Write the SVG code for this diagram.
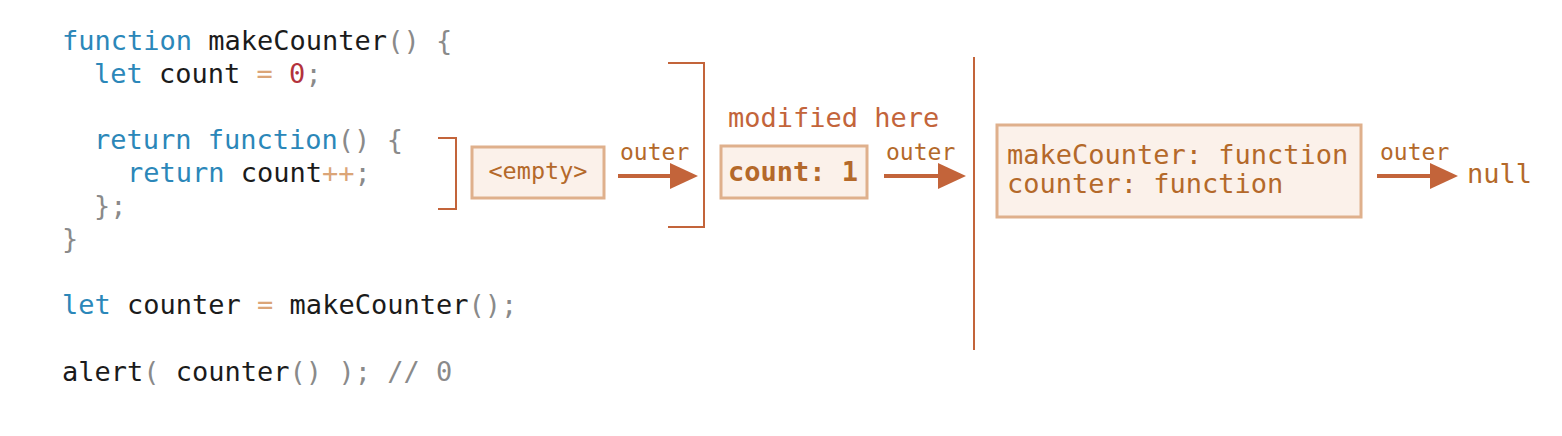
<svg xmlns="http://www.w3.org/2000/svg" width="1562" height="436" viewBox="0 0 1562 436">
<style>
.code{font-family:"DejaVu Sans Mono","Liberation Mono",monospace;font-size:27px;fill:#1b1b1b}
.kw{fill:#2b87b9}
.p{fill:#8a8a8a}
.op{fill:#dba578}
.num{fill:#b3323c}
.lbl{font-family:"DejaVu Sans Mono","Liberation Mono",monospace;fill:#b4692a}
.box{fill:#fbf1ea;stroke:#dfb08c;stroke-width:3}
.ln{fill:none;stroke:#c3643a;stroke-width:2}
.arr{stroke:#c3643a;stroke-width:4;fill:none}
.head{fill:#c3643a}
</style>
<rect width="1562" height="436" fill="#ffffff"/>
<g id="code">
<text class="code" x="62" y="50"><tspan class="kw">function</tspan> makeCounter<tspan class="p">()</tspan> <tspan class="p">{</tspan></text>
<text class="code" x="94" y="83"><tspan class="kw">let</tspan> count <tspan class="op">=</tspan> <tspan class="num">0</tspan><tspan class="p">;</tspan></text>
<text class="code" x="94" y="149"><tspan class="kw">return</tspan> <tspan class="kw">function</tspan><tspan class="p">()</tspan> <tspan class="p">{</tspan></text>
<text class="code" x="127" y="182"><tspan class="kw">return</tspan> count<tspan class="op">++</tspan><tspan class="p">;</tspan></text>
<text class="code" x="94" y="215"><tspan class="p">};</tspan></text>
<text class="code" x="62" y="248"><tspan class="p">}</tspan></text>
<text class="code" x="62" y="314"><tspan class="kw">let</tspan> counter <tspan class="op">=</tspan> makeCounter<tspan class="p">();</tspan></text>
<text class="code" x="62" y="381">alert<tspan class="p">(</tspan> counter<tspan class="p">()</tspan> <tspan class="p">);</tspan> <tspan class="p">// 0</tspan></text>
</g>
<g id="brackets">
<polyline class="ln" points="438,138 456,138 456,209 438,209"/>
<polyline class="ln" points="668,63 704,63 704,227 668,227"/>
<line class="ln" x1="974" y1="57" x2="974" y2="350"/>
</g>
<g id="node-empty">
<rect class="box" x="472" y="147" width="132" height="51"/>
<text class="lbl" x="538" y="179" font-size="23.5" text-anchor="middle">&lt;empty&gt;</text>
</g>
<g id="node-count">
<text class="lbl" x="728" y="127" font-size="27" style="fill:#c3643a">modified here</text>
<rect class="box" x="721" y="146" width="146" height="52"/>
<text class="lbl" x="728" y="181" font-size="27" font-weight="bold">count: 1</text>
</g>
<g id="node-global">
<rect class="box" x="997" y="125" width="364" height="92"/>
<text class="lbl" x="1007" y="164" font-size="27">makeCounter: function</text>
<text class="lbl" x="1007" y="193" font-size="27">counter: function</text>
</g>
<g id="node-null">
<text class="lbl" x="1467" y="183" font-size="27">null</text>
</g>
<g id="connectors">
<text class="lbl" x="620" y="160" font-size="23">outer</text>
<line class="arr" x1="618" y1="176" x2="672" y2="176"/>
<polygon class="head" points="670,163 698,176 670,189"/>
<text class="lbl" x="886" y="160" font-size="23">outer</text>
<line class="arr" x1="884" y1="176" x2="940" y2="176"/>
<polygon class="head" points="938,163 966,176 938,189"/>
<text class="lbl" x="1380" y="160" font-size="23">outer</text>
<line class="arr" x1="1377" y1="176" x2="1432" y2="176"/>
<polygon class="head" points="1430,163 1458,176 1430,189"/>
</g>
</svg>
